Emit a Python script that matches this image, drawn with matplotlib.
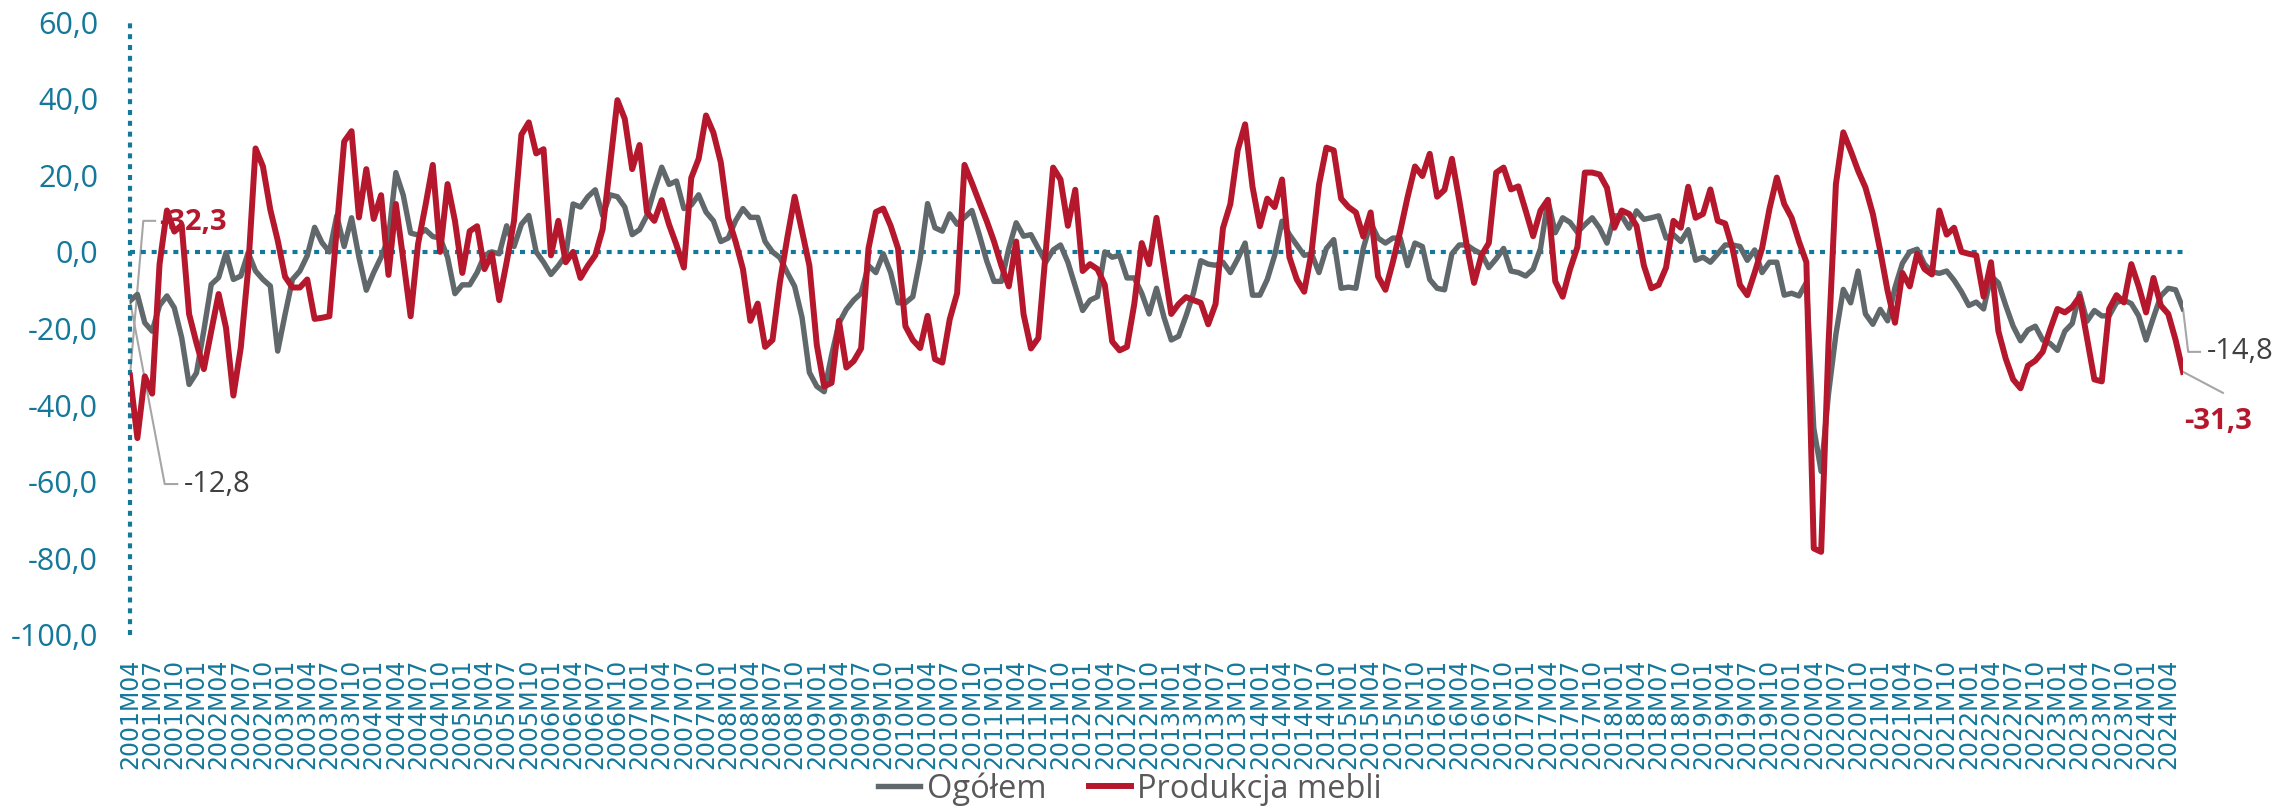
import numpy as np
import matplotlib.pyplot as plt

# monthly data, 2001M04 .. 2024M06
ogolem = [
    -12.8, -11.1, -18.5, -20.7, -14.0, -11.5, -14.6, -22.4, -34.6, -31.6,
    -20.5, -8.5, -6.7, -0.2, -7.2, -6.3, -0.2, -5.0, -7.2, -8.9,
    -25.9, -16.3, -7.2, -5.0, -1.0, 6.4, 2.4, 0.0, 9.4, 1.4,
    8.9, -1.4, -10.0, -5.4, -1.4, 3.6, 20.7, 14.8, 4.9, 4.4,
    5.8, 4.0, 3.6, -1.4, -10.9, -8.6, -8.6, -5.4, -0.9, 0.0,
    -0.5, 6.8, 1.4, 7.2, 9.5, 0.0, -2.7, -5.9, -3.6, -0.9,
    12.5, 11.7, 14.4, 16.2, 9.5, 14.9, 14.4, 11.7, 4.5, 5.8,
    9.5, 16.2, 22.1, 17.6, 18.5, 11.3, 12.2, 14.9, 10.4, 8.1,
    2.7, 3.6, 8.1, 11.3, 9.0, 9.0, 2.7, 0.0, -1.5, -5.4,
    -9.0, -17.1, -31.5, -35.1, -36.5, -27.0, -18.6, -15.0, -12.6, -10.8,
    -3.6, -5.4, -0.5, -5.4, -13.3, -13.3, -11.7, -1.8, 12.6, 6.3,
    5.4, 9.9, 7.2, 9.0, 10.8, 4.5, -2.3, -7.7, -7.7, 0.9,
    7.6, 4.1, 4.5, 0.9, -2.7, 0.5, 1.8, -2.7, -9.0, -15.3,
    -12.6, -11.7, 0.0, -1.4, -0.9, -6.8, -6.8, -10.8, -16.2, -9.5,
    -17.0, -23.0, -22.0, -16.7, -10.8, -2.3, -3.2, -3.5, -2.7, -5.4,
    -1.8, 2.3, -11.3, -11.3, -7.2, -0.9, 8.0, 4.5, 1.8, -0.9,
    -0.5, -5.4, 0.9, 3.2, -9.5, -9.2, -9.5, 0.9, 7.6, 3.6,
    2.3, 3.6, 3.6, -3.6, 2.3, 1.4, -7.2, -9.5, -9.9, -0.5,
    1.8, 1.8, 0.5, -0.5, -4.1, -1.8, 0.9, -5.0, -5.4, -6.3,
    -4.5, 0.9, 13.4, 5.0, 8.9, 7.7, 5.1, 7.1, 8.9, 6.2,
    2.3, 9.4, 9.4, 6.2, 10.7, 8.5, 8.9, 9.4, 3.6, 4.5,
    2.7, 5.8, -2.2, -1.4, -2.7, -0.5, 1.8, 1.8, 1.4, -2.2,
    0.5, -5.4, -2.7, -2.7, -11.3, -10.8, -11.5, -8.0, -46.0, -57.3,
    -37.0, -21.5, -9.8, -13.3, -5.0, -16.2, -18.9, -15.0, -18.0, -9.3,
    -3.0, 0.0, 0.7, -3.2, -5.2, -5.6, -5.0, -7.4, -10.4, -14.0,
    -13.1, -14.9, -6.3, -8.1, -14.0, -19.4, -23.2, -20.4, -19.4, -23.0,
    -23.9, -25.7, -20.7, -18.7, -10.8, -18.1, -15.3, -16.7, -16.7, -13.2,
    -12.6, -13.5, -16.7, -23.0, -17.1, -11.5, -9.5, -9.9, -14.8,
]

meble = [
    -32.3, -48.6, -32.5, -37.0, -3.2, 10.8, 5.3, 7.0, -16.2, -23.8,
    -30.6, -20.7, -11.0, -19.8, -37.5, -25.0, -4.5, 27.0, 22.3, 11.0,
    3.0, -6.5, -9.3, -9.3, -7.2, -17.5, -17.2, -16.8, 6.0, 28.8,
    31.5, 9.0, 21.6, 8.6, 14.8, -6.0, 12.5, -2.0, -16.8, 2.0,
    12.0, 22.7, 0.0, 17.7, 8.1, -5.5, 5.4, 6.7, -4.5, -0.5,
    -12.6, -2.7, 8.1, 30.6, 33.8, 25.7, 26.8, -0.9, 8.1, -2.7,
    0.0, -6.8, -3.6, -0.9, 5.9, 22.5, 39.6, 34.7, 21.6, 27.9,
    10.4, 8.1, 13.5, 7.1, 1.8, -4.1, 19.3, 24.3, 35.6, 31.1,
    23.4, 8.9, 2.7, -4.5, -18.0, -13.5, -24.8, -23.0, -8.0, 3.6,
    14.4, 5.4, -3.6, -24.3, -35.1, -34.2, -18.0, -30.2, -28.5, -25.2,
    0.9, 10.4, 11.3, 6.8, 0.9, -19.4, -23.0, -25.1, -16.7, -28.0,
    -28.9, -17.6, -10.8, 22.7, 18.0, 13.0, 8.1, 2.7, -3.6, -9.0,
    2.7, -16.3, -25.2, -22.5, 0.0, 22.0, 18.9, 6.8, 16.2, -5.0,
    -3.2, -4.5, -8.6, -23.4, -25.7, -24.8, -13.5, 2.3, -3.2, 8.9,
    -3.6, -16.2, -13.6, -11.8, -12.6, -13.3, -18.9, -13.6, 6.2, 12.5,
    26.6, 33.3, 17.0, 6.7, 13.9, 11.7, 18.9, -1.4, -7.2, -10.4,
    0.0, 17.5, 27.2, 26.5, 13.9, 11.7, 10.3, 4.0, 10.3, -6.4,
    -9.9, -2.7, 5.4, 14.3, 22.3, 19.8, 25.6, 14.4, 16.2, 24.3,
    13.5, 1.8, -8.1, -0.9, 2.3, 20.7, 22.0, 16.3, 17.1, 10.7,
    4.1, 10.8, 13.6, -7.7, -11.7, -4.5, 1.3, 20.7, 20.7, 20.2,
    16.7, 6.3, 10.8, 9.9, 6.8, -3.6, -9.5, -8.6, -4.1, 8.1,
    6.3, 17.0, 8.9, 9.9, 16.3, 8.1, 7.4, 0.9, -8.6, -11.3,
    -5.4, 0.9, 11.2, 19.4, 12.5, 8.9, 2.7, -2.7, -77.4, -78.3,
    -24.0, 17.7, 31.2, 26.4, 21.2, 16.8, 9.9, 0.3, -10.2, -18.5,
    -5.5, -9.0, -0.5, -4.5, -5.9, 10.8, 4.5, 6.3, 0.0, -0.5,
    -0.9, -11.7, -2.7, -20.7, -27.9, -33.3, -35.6, -29.7, -28.4, -26.1,
    -20.3, -14.9, -15.8, -14.4, -11.7, -22.5, -33.3, -33.8, -14.9, -11.3,
    -13.2, -3.2, -9.0, -15.8, -6.8, -14.0, -16.2, -23.0, -31.3,
]

n = len(ogolem)
months = []
for i in range(n):
    y = 2001 + (3 + i) // 12
    mo = (3 + i) % 12 + 1
    months.append(f"{y}M{mo:02d}")

TEAL = "#14789b"
GREY = "#60686b"
RED = "#b5182c"
LEADER = "#a6a6a6"

plt.rcParams["font.family"] = ["Open Sans", "DejaVu Sans"]

fig = plt.figure(figsize=(22.78, 8.09), dpi=100)
ax = fig.add_axes([130 / 2278, 174 / 809, 2053 / 2278, 613 / 809])

x = np.arange(n)
ax.plot(x, ogolem, color=GREY, lw=3.9, solid_joinstyle="round", zorder=3, label="Ogółem")
ax.plot(x, meble, color=RED, lw=4.3, solid_joinstyle="round", zorder=4, label="Produkcja mebli")

ax.set_xlim(0, n - 1)
ax.set_ylim(-100, 60)

# dotted zero line and dotted vertical axis
ax.axhline(0, color=TEAL, lw=3, ls=(0, (1.2, 1.4)), dash_capstyle="butt", zorder=2)
for s in ax.spines.values():
    s.set_visible(False)
ax.plot([0, 0], [-100, 60], color=TEAL, lw=3, ls=(0, (1.2, 1.4)),
        dash_capstyle="butt", clip_on=False, zorder=2)

ax.set_yticks(range(-100, 61, 20))
ax.set_yticklabels([f"{v:.1f}".replace(".", ",") for v in range(-100, 61, 20)])
ax.tick_params(axis="y", length=0, pad=23, labelsize=22, labelcolor=TEAL)

ticks = list(range(0, n, 3))
ax.set_xticks(ticks)
ax.set_xticklabels([months[i] for i in ticks], rotation=90, family="DejaVu Sans",
                   fontsize=17, color=TEAL)
ax.tick_params(axis="x", length=0, pad=17)

# data labels for first and last points
ax.plot([0, 4.7, 6.4], [ogolem[0], -60.6, -60.6], color=LEADER, lw=1.5, zorder=1, clip_on=False)
ax.text(7.3, -60.6, "-12,8", color="#404040", fontsize=21, va="center", ha="left")
ax.plot([0, 1.8, 3.4], [meble[0], 8.1, 8.1], color=LEADER, lw=1.5, zorder=1, clip_on=False)
ax.text(3.9, 7.6, "-32,3", color=RED, fontsize=21, fontweight="bold", va="center", ha="left", zorder=2)

ax.plot([n - 1, n - 0.3, n + 1.3], [ogolem[-1], -26.1, -26.1], color=LEADER, lw=1.5,
        zorder=1, clip_on=False)
ax.text(n + 2.2, -26.1, "-14,8", color="#404040", fontsize=21, va="center", ha="left", clip_on=False)
ax.plot([n - 1, n + 4.4], [meble[-1], -36.8], color=LEADER, lw=1.5, zorder=1, clip_on=False)
ax.text(n - 0.8, -44.4, "-31,3", color=RED, fontsize=21, fontweight="bold", va="center",
        ha="left", clip_on=False)

fig.legend(loc="center", bbox_to_anchor=(0.496, 0.025), ncol=2, frameon=False,
           fontsize=23.5, labelcolor="#595959", handlelength=1.3, columnspacing=1.3,
           handletextpad=0.2)

fig.savefig("out.png", dpi=100)
